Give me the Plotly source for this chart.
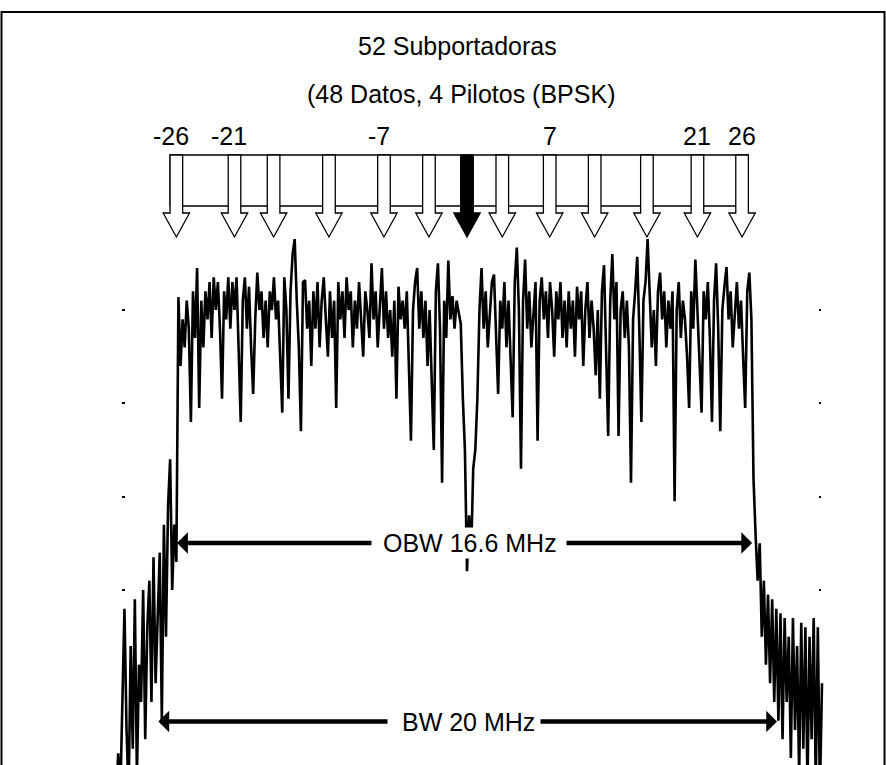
import numpy as np
import plotly.graph_objects as go

# ---------------- data ----------------
title_text = "52 Subportadoras"
subtitle_text = "(48 Datos, 4 Pilotos (BPSK)"

carrier_labels = ["-26", "-21", "", "", "-7", "", "", "", "7", "", "", "21", "26"]
carrier_freq_mhz = [-8.40, -6.72, -5.59, -3.99, -2.40, -1.10, 0.0,
                    1.02, 2.39, 3.69, 5.20, 6.66, 7.95]
dc_index = 6

obw_label = "OBW 16.6 MHz"
obw_edges_mhz = [-8.38, 8.24]
bw_label = "BW 20 MHz"
bw_edges_mhz = [-8.92, 8.96]

level_ticks_db = [-20, -30, -40, -50]

freq_start_mhz = -10.14
freq_step_mhz = 0.06

left_skirt_db = [-72, -67.5, -72, -60, -52, -65, -72, -56, -67, -51, -70, -58, -62, -50,
                 -66, -54, -49, -62, -46.5, -60, -52, -46, -64, -43, -55, -41, -36, -50,
                 -43, -47, -18.6]
band_left_db = [-26, -21, -24, -19, -22, -32, -18, -23, -15.5, -30.5,
                -19, -24, -18, -21, -17, -23, -16.5, -20, -17, -22,
                -29.5, -18, -21, -16.5, -22, -17, -20, -16.5, -24, -32,
                -19, -16.5, -22, -17.5, -24, -29, -21, -16, -20, -18,
                -23, -19, -24, -18, -20, -16.5, -21, -19, -25, -31,
                -16.5, -20, -29.5, -18, -14, -12.4, -19, -24, -33, -17,
                -16.8, -22, -19, -26, -18, -22, -17, -24, -19, -16.5,
                -21, -25, -18, -23, -19, -30.5, -17, -21, -18, -23,
                -16.5, -20, -18, -24, -19, -22, -17, -21, -25, -18,
                -20, -23, -15, -21, -18, -24, -19, -15.5, -22, -18,
                -23, -20, -25, -19, -29.5, -17.5, -21, -19, -22, -18,
                -26, -34, -20, -17, -15.5, -22, -18, -23, -19, -26,
                -20, -27, -35, -18, -15, -22, -38.5, -19, -23, -14.7,
                -21, -18.5, -22, -19, -20.5]
dc_dip_db = [-21.5, -29.5, -35, -48, -42, -46, -37, -35, -29.5, -20]
band_right_db = [-15.5, -22, -18, -24, -20, -17, -16.2, -23, -29, -19,
                 -22, -17, -24, -19, -26, -31.5, -17, -13.3, -20, -37,
                 -19, -14.6, -22, -18, -24, -20, -17, -34, -19, -16.5,
                 -21, -18, -23, -17, -20, -25, -18, -21, -17, -23,
                 -19, -24, -18, -22, -19, -25, -17.5, -21, -18, -26,
                 -20, -17, -23, -19, -22, -27, -20, -29.5, -18, -15.2,
                 -23, -33.5, -19, -14, -21, -17, -33.5, -20, -18, -23,
                 -19, -24, -38.5, -21, -18, -14.3, -22, -32, -19, -17,
                 -12.4, -19, -24, -20, -26, -18, -16, -21, -18, -24,
                 -19, -22, -18, -40.5, -20, -17, -23, -19, -21, -25,
                 -30.5, -18, -22, -14.6, -20, -24, -31, -18, -21, -17,
                 -23, -32, -19, -15, -22, -33, -20, -17.5, -15.4, -21,
                 -18, -24, -20, -17, -22, -19, -25, -30.5, -18, -16, -21]
right_skirt_db = [-38, -44, -49, -45, -55, -49, -58, -50.5, -60, -51, -62, -52, -64, -52.5,
                  -66, -53, -62, -55, -68, -53, -65, -56, -70, -53.5, -67, -54, -71, -55,
                  -66, -53, -71, -54, -72, -60]

# ---------------- layout helpers ----------------
W, H = 886, 765
XC_PX, PX_PER_MHZ = 467.0, 34.6
Y_REF_PX, Y_REF_DB, PX_PER_DB = 310.0, -20.0, 9.333
FONT = "Liberation Sans, Arial, sans-serif"
FS = 25


def fx(px):
    return (px - XC_PX) / PX_PER_MHZ


def fy(py):
    return Y_REF_DB - (py - Y_REF_PX) / PX_PER_DB


levels = left_skirt_db + band_left_db + dc_dip_db + band_right_db + right_skirt_db
freqs = freq_start_mhz + freq_step_mhz * np.arange(len(levels))

fig = go.Figure()
fig.add_trace(go.Scatter(x=freqs, y=levels, mode="lines",
                         line=dict(color="black", width=2.6),
                         hoverinfo="skip", showlegend=False))
fig.add_trace(go.Scatter(x=[carrier_freq_mhz[dc_index]] * len(level_ticks_db), y=level_ticks_db,
                         yaxis="y2", mode="markers", marker=dict(opacity=0),
                         hoverinfo="skip", showlegend=False))

shapes = []
# outer frame
shapes.append(dict(type="rect", xref="paper", yref="paper",
                   x0=1.5 / W, x1=(W - 1.5) / W, y0=-0.02, y1=1 - 12 / H,
                   line=dict(color="black", width=2), fillcolor="rgba(0,0,0,0)"))

# comb of subcarrier arrows
hs = 6.3 / PX_PER_MHZ
hh = 13.2 / PX_PER_MHZ
y_top, y_bar, y_base, y_tip = fy(155), fy(206), fy(213), fy(237)
shapes.append(dict(type="rect", xref="x", yref="y",
                   x0=carrier_freq_mhz[0] - hs, x1=carrier_freq_mhz[-1] + hs,
                   y0=y_bar, y1=y_top, line=dict(color="black", width=1.3),
                   fillcolor="white", layer="above"))
for i, c in enumerate(carrier_freq_mhz):
    path = (f"M{c - hs},{y_top} L{c + hs},{y_top} L{c + hs},{y_base} L{c + hh},{y_base} "
            f"L{c},{y_tip} L{c - hh},{y_base} L{c - hs},{y_base} Z")
    fill = "black" if i == dc_index else "white"
    shapes.append(dict(type="path", xref="x", yref="y", path=path,
                       line=dict(color="black", width=1.3), fillcolor=fill, layer="above"))

annotations = []
annotations.append(dict(x=fx(457), y=fy(46), xref="x", yref="y", text=title_text,
                        showarrow=False, font=dict(family=FONT, size=FS, color="black")))
annotations.append(dict(x=fx(461), y=fy(94), xref="x", yref="y", text=subtitle_text,
                        showarrow=False, font=dict(family=FONT, size=FS, color="black")))
for lab, c in zip(carrier_labels, carrier_freq_mhz):
    if not lab:
        continue
    shift = -5 / PX_PER_MHZ if lab.startswith("-") else 0
    annotations.append(dict(x=c + shift, y=fy(136), xref="x", yref="y", text=lab,
                            showarrow=False, font=dict(family=FONT, size=FS, color="black")))


def dim_arrow(edges, y_px, gap_left_px, gap_right_px, label, label_px):
    yv = fy(y_px)
    out = []
    for tip, tail in ((edges[0], fx(gap_left_px)), (edges[1], fx(gap_right_px))):
        out.append(dict(x=tip, y=yv, ax=tail, ay=yv, xref="x", yref="y", axref="x", ayref="y",
                        text="", showarrow=True, arrowhead=1, arrowsize=0.8, arrowwidth=4.5,
                        arrowcolor="black", standoff=0, startstandoff=0))
    out.append(dict(x=fx(label_px), y=yv, xref="x", yref="y", text=label, showarrow=False,
                    bgcolor="white", borderpad=1,
                    font=dict(family=FONT, size=FS, color="black")))
    return out


annotations += dim_arrow(obw_edges_mhz, 543, 373, 565, obw_label, 469.5)
annotations += dim_arrow(bw_edges_mhz, 721.5, 389, 539, bw_label, 468.5)

yaxis_common = dict(range=[fy(H), fy(0)], tickvals=level_ticks_db, ticks="outside",
                    tickcolor="black", tickwidth=1.5, showticklabels=False,
                    showgrid=False, zeroline=False, showline=False, anchor="free")

fig.update_layout(
    width=W, height=H,
    margin=dict(l=0, r=0, t=0, b=0),
    paper_bgcolor="white", plot_bgcolor="white",
    showlegend=False,
    xaxis=dict(range=[fx(0), fx(W)], domain=[0, 1], visible=False),
    yaxis=dict(**yaxis_common, position=125 / W, side="left", ticklen=3),
    yaxis2=dict(**yaxis_common, position=818 / W, side="right", ticklen=2, overlaying="y"),
    shapes=shapes,
    annotations=annotations,
)

fig.write_html("out.html", config={"displayModeBar": False},
               post_script="document.body.style.margin='0';document.body.style.overflow='hidden';")
